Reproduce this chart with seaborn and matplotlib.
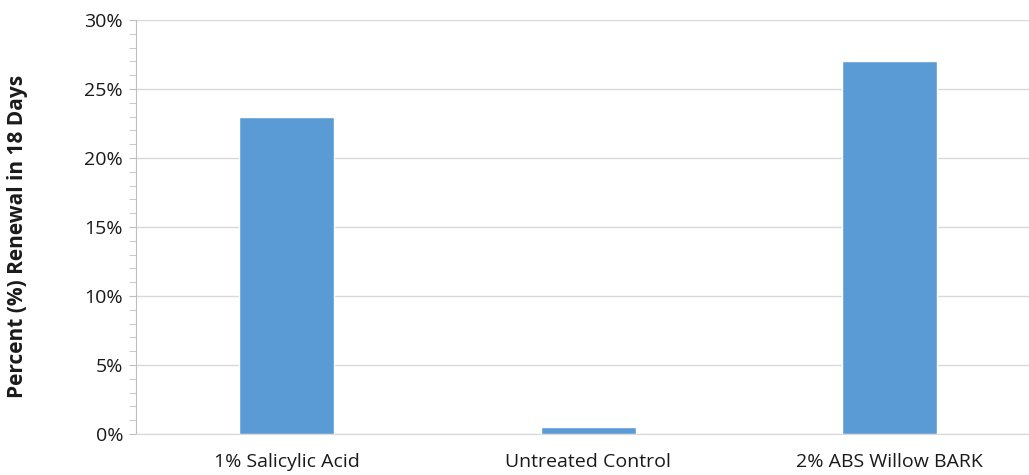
import matplotlib
matplotlib.use("Agg")
import matplotlib.pyplot as plt
from matplotlib.ticker import MultipleLocator, PercentFormatter
import pandas as pd
import seaborn as sns

categories = ["1% Salicylic Acid", "Untreated Control", "2% ABS Willow BARK"]
renewal_pct = [23.0, 0.5, 27.0]
y_label = "Percent (%) Renewal in 18 Days"

sns.set_style("white")
plt.rcParams["font.family"] = ["Open Sans", "DejaVu Sans"]

df = pd.DataFrame({"treatment": categories, "renewal": renewal_pct})

fig = plt.figure(figsize=(10.29, 4.75), dpi=100)
# axes runs a little past the right edge, as in the original
ax = fig.add_axes([0.1318, 0.0863, 0.8795, 0.8716])

sns.barplot(data=df, x="treatment", y="renewal", color="#5B9BD5",
            saturation=1, width=0.315, ax=ax, zorder=3)

ax.set_ylim(0, 30)
ax.yaxis.set_major_locator(MultipleLocator(5))
ax.yaxis.set_minor_locator(MultipleLocator(1))
ax.yaxis.set_major_formatter(PercentFormatter(decimals=0))
ax.grid(axis="y", which="major", color="#D9D9D9", linewidth=1, zorder=0)

for side in ["top", "right"]:
    ax.spines[side].set_visible(False)
ax.spines["left"].set_color("#BFBFBF")
ax.spines["bottom"].set_color("#D9D9D9")

ax.tick_params(axis="y", which="major", left=True, length=5, color="#BFBFBF",
               labelsize=14, labelcolor="#1a1a1a", pad=4)
ax.tick_params(axis="y", which="minor", left=True, length=5, color="#BFBFBF")
ax.tick_params(axis="x", bottom=False, labelsize=14, labelcolor="#1a1a1a", pad=10)

ax.set_xlabel("")
ax.set_ylabel("")
fig.text(18 / 1029, 1 - 236 / 475, y_label, rotation=90, ha="center", va="center",
         fontsize=15, fontweight="bold", color="#1a1a1a")

fig.savefig("out.png", dpi=100)
